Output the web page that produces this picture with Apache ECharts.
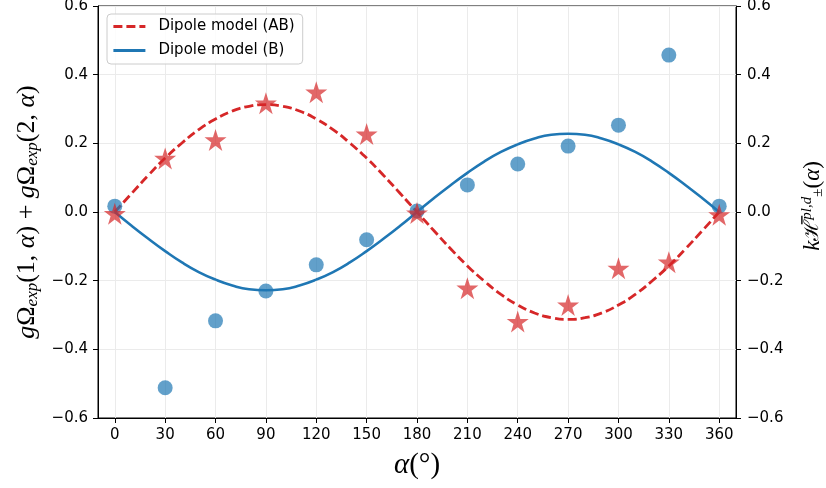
<!DOCTYPE html>
<html>
<head>
<meta charset="utf-8">
<script src="https://cdn.jsdelivr.net/npm/echarts@6/dist/echarts.min.js"></script>
<style>
html,body{margin:0;padding:0;background:#fff;}
#chart{width:826px;height:488px;}
</style>
</head>
<body>
<div id="chart"></div>
<script>
// ---- data ----
const angles = [0, 30, 60, 90, 120, 150, 180, 210, 240, 270, 300, 330, 360];
const expAB = [-0.005, 0.156, 0.210, 0.317, 0.349, 0.227, -0.003, -0.222, -0.319, -0.271, -0.164, -0.146, -0.008];
const expB  = [0.017, -0.512, -0.317, -0.230, -0.154, -0.081, 0.003, 0.079, 0.140, 0.192, 0.253, 0.457, 0.017];
const modelAngles = [0, 10, 20, 30, 40, 50, 60, 70, 80, 90, 100, 110, 120, 130, 140, 150, 160, 170, 180,
                     190, 200, 210, 220, 230, 240, 250, 260, 270, 280, 290, 300, 310, 320, 330, 340, 350, 360];
const modelAB = [0, 0.054, 0.107, 0.157, 0.201, 0.240, 0.271, 0.294, 0.308, 0.313, 0.308, 0.294, 0.271, 0.240, 0.201, 0.157, 0.107, 0.054, 0,
                 -0.054, -0.107, -0.157, -0.201, -0.240, -0.271, -0.294, -0.308, -0.313, -0.308, -0.294, -0.271, -0.240, -0.201, -0.157, -0.107, -0.054, 0];
const modelB  = [0, -0.040, -0.078, -0.114, -0.147, -0.175, -0.197, -0.214, -0.225, -0.228, -0.225, -0.214, -0.197, -0.175, -0.147, -0.114, -0.078, -0.040, 0,
                 0.040, 0.078, 0.114, 0.147, 0.175, 0.197, 0.214, 0.225, 0.228, 0.225, 0.214, 0.197, 0.175, 0.147, 0.114, 0.078, 0.040, 0];
const xTicks = [0, 30, 60, 90, 120, 150, 180, 210, 240, 270, 300, 330, 360];
const legendNames = ['Dipole model (AB)', 'Dipole model (B)'];

const pair = (xs, ys) => xs.map((x, i) => [x, ys[i]]);
const fmtY = v => { if (Math.abs(v) < 1e-9) v = 0; return v.toFixed(1).replace('-', '\u2212'); };

const RED = '#d62728', BLUE = '#1f77b4';
const STAR = 'path://M50,0 L61.2,34.5 L97.6,34.5 L68.2,55.9 L79.4,90.5 L50,69.1 L20.6,90.5 L31.8,55.9 L2.4,34.5 L38.8,34.5 Z';
const mathFont = 'Liberation Serif';
const richBig = {
  i: {fontFamily: mathFont, fontStyle: 'italic', fontSize: 26, color: '#000', lineHeight: 28},
  r: {fontFamily: mathFont, fontSize: 26, color: '#000', lineHeight: 28},
  s: {fontFamily: mathFont, fontStyle: 'italic', fontSize: 17, color: '#000', lineHeight: 16, verticalAlign: 'bottom'}
};
const richX = {
  i: {fontFamily: mathFont, fontStyle: 'italic', fontSize: 29, color: '#000', lineHeight: 30},
  r: {fontFamily: mathFont, fontSize: 29, color: '#000', lineHeight: 30}
};
const richR = {
  i: {fontFamily: mathFont, fontStyle: 'italic', fontSize: 23, color: '#000', lineHeight: 26},
  r: {fontFamily: mathFont, fontSize: 23, color: '#000', lineHeight: 26},
  h: {fontFamily: 'DejaVu Serif', fontSize: 20, color: '#000', lineHeight: 26},
  p: {fontFamily: mathFont, fontStyle: 'italic', fontSize: 15, color: '#000', lineHeight: 15, verticalAlign: 'top'},
  q: {fontFamily: mathFont, fontSize: 15, color: '#000', lineHeight: 13, verticalAlign: 'bottom'}
};

const axisCommon = {
  axisLine: {show: true, onZero: false, lineStyle: {color: '#000', width: 1}},
  axisTick: {show: true, inside: false, length: 5, lineStyle: {color: '#000', width: 1}},
  axisLabel: {color: '#000', fontSize: 15, fontFamily: 'DejaVu Sans'}
};

const chart = echarts.init(document.getElementById('chart'), null, {renderer: 'canvas'});
chart.setOption({
  animation: false,
  backgroundColor: '#fff',
  grid: {left: 98, right: 90, top: 6, bottom: 70, containLabel: false, outerBoundsMode: 'none',
         show: true, borderColor: '#000', borderWidth: 1, backgroundColor: 'transparent'},
  legend: {
    orient: 'vertical', left: 107, top: 14,
    data: [
      {name: legendNames[0], lineStyle: {color: RED, width: 2.8, type: [9, 4]}},
      {name: legendNames[1], lineStyle: {color: BLUE, width: 2.8}}
    ],
    itemWidth: 32, itemHeight: 14, itemGap: 9,
    padding: [5, 8, 6, 5],
    itemStyle: {opacity: 0},
    backgroundColor: 'rgba(255,255,255,0.85)',
    borderColor: '#cccccc', borderWidth: 1, borderRadius: 4,
    textStyle: {fontSize: 15, fontFamily: 'DejaVu Sans', color: '#000', padding: [0, 0, 0, 8]}
  },
  xAxis: {
    type: 'value', min: -10, max: 370,
    ...axisCommon,
    axisTick: {...axisCommon.axisTick, customValues: xTicks},
    axisLabel: {...axisCommon.axisLabel, margin: 10, customValues: xTicks},
    splitLine: {show: true, lineStyle: {color: '#ebebeb', width: 1}},
    name: '{i|α}{r|(°)}', nameLocation: 'middle', nameGap: 32,
    nameTextStyle: {rich: richX}
  },
  yAxis: [
    {
      type: 'value', min: -0.6, max: 0.6, interval: 0.2, position: 'left',
      ...axisCommon,
      axisLabel: {...axisCommon.axisLabel, margin: 10, formatter: fmtY},
      splitLine: {show: true, lineStyle: {color: '#ebebeb', width: 1}},
      name: '{i|g}{r|Ω}{s|exp}{r|(1, }{i|α}{r|) + }{i|g}{r|Ω}{s|exp}{r|(2, }{i|α}{r|)}',
      nameLocation: 'middle', nameGap: 56, nameRotate: 90,
      nameTextStyle: {rich: richBig}
    },
    {
      type: 'value', min: -0.6, max: 0.6, interval: 0.2, position: 'right',
      ...axisCommon,
      axisLabel: {...axisCommon.axisLabel, margin: 11, formatter: fmtY},
      splitLine: {show: false},
      name: '{i|k}{h|ℋ\u0305}{p|pl,d}{q|±}{r|(}{i|α}{r|)}',
      nameLocation: 'middle', nameGap: 64, nameRotate: 90,
      nameTextStyle: {rich: richR, padding: [0, 0, 0, 12]}
    }
  ],
  series: [
    {
      name: legendNames[1], type: 'line', data: pair(modelAngles, modelB),
      smooth: true, symbol: 'none', showSymbol: false,
      lineStyle: {color: BLUE, width: 2.6}, itemStyle: {color: BLUE}, z: 2
    },
    {
      name: legendNames[0], type: 'line', data: pair(modelAngles, modelAB),
      smooth: true, symbol: 'none', showSymbol: false,
      lineStyle: {color: RED, width: 2.8, type: [9, 4]}, itemStyle: {color: RED}, z: 2
    },
    {
      name: 'exp B', type: 'scatter', data: pair(angles, expB),
      symbol: 'circle', symbolSize: 15,
      itemStyle: {color: BLUE, opacity: 0.7}, z: 3
    },
    {
      name: 'exp AB', type: 'scatter', data: pair(angles, expAB),
      symbol: STAR, symbolSize: 22,
      itemStyle: {color: RED, opacity: 0.7}, z: 4
    }
  ]
});
</script>
</body>
</html>
